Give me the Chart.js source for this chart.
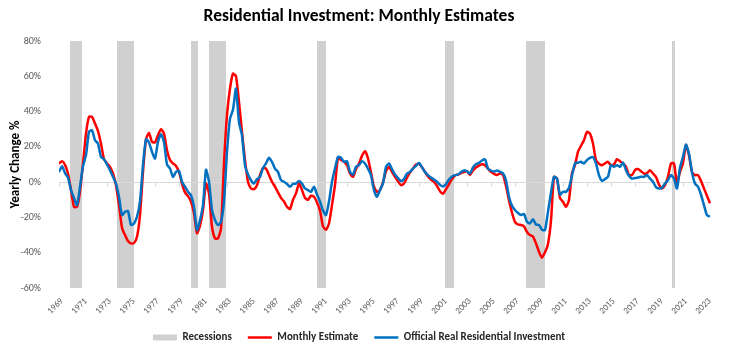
<!DOCTYPE html>
<html>
<head>
<meta charset="utf-8">
<script src="https://cdn.jsdelivr.net/npm/chart.js@4.4.1/dist/chart.umd.min.js"></script>
<style>
  body { margin: 0; background: #fff; }
  #wrap { width: 735px; height: 353px; }
</style>
</head>
<body>
<div id="wrap"><canvas id="riChart"></canvas></div>
<script>
// quarterly readings, yearly change %, starting 1969 Q1
const monthlyEstimate = [
  10.6, 11.9, 9.8, 4.9,
  -4.5, -14, -14, -5.5,
  10.6, 27.5, 37, 37,
  33.2, 28.9, 21.9, 13,
  10.6, 8.7, 4.9, -1.7,
  -13, -25.8, -30, -33.4,
  -34.7, -34.5, -31, -18.7,
  5.8, 24.3, 27.9, 22.8,
  22.5, 26.6, 30, 27.5,
  18.1, 12.5, 10.6, 9.2,
  5.8, -0.8, -5.8, -7.9,
  -11, -17.7, -29, -24.7,
  -15.8, -0.8, -6.4, -25.3,
  -31.9, -31.9, -26.2, 10.5,
  38, 53, 61.5, 60,
  45.5, 28.5, 12.5, 0.2,
  -3.6, -4, -1.7, 4,
  8, 7.7, 4, 0.2,
  -2.6, -5.8, -8.9, -11,
  -14, -15.3, -10, -6.4,
  -0.8, -4.5, -8.9, -10,
  -7.7, -8.3, -11.5, -16,
  -25, -27, -23.4, -13,
  -1.7, 13.8, 12.5, 11.5,
  9.6, 4.9, 3, 7.4,
  10.6, 14.9, 17.5, 13.4,
  5.5, -2.6, -5.5, -4.5,
  -0.2, 6.2, 8.7, 5.8,
  3, 0.5, -1.7, -0.8,
  2.5, 5.5, 7.7, 10,
  10.4, 8.5, 5.8, 3.2,
  1.5, 0.2, -2.1, -5.1,
  -6.6, -4, -1.1, 1.7,
  3.8, 4.3, 5.1, 5.7,
  6.2, 4, 6.6, 8.3,
  9.4, 10.2, 9.6, 7.7,
  5.8, 4.7, 4, 4.9,
  4.2, -2.1, -10.2, -17.2,
  -22.5, -24, -24.3, -25,
  -28.3, -30, -30.8, -34.7,
  -39.4, -42.8, -39.8, -35,
  -22, 3, 2, -9,
  -11.1, -14, -10.2, 4.9,
  9.6, 17.2, 20.6, 23.8,
  28.5, 27.5, 21.9, 12.5,
  10.4, 9.6, 10.6, 11.5,
  9.6, 10, 13, 11.9,
  10.6, 8.7, 4, 4,
  6.8, 7.4, 6.2, 4.9,
  5.1, 6.8, 4.9, 3,
  -1.3, -3.6, -1.7, 3,
  10.6, 10.6, -0.8, 5.8,
  10.6, 21, 15.3, 5.8,
  4, 4, 0.8, -3.6,
  -7.7, -12
];

const officialRRI = [
  5.8, 9, 5.1, 2.6,
  -4.5, -8.9, -13, -2.6,
  9, 15.3, 28.5, 29.4,
  23.8, 21.9, 14.3, 13,
  10, 6.8, 3, -0.8,
  -8.3, -18.7, -16.8, -16.4,
  -24.3, -23.4, -19.6, -11,
  9.6, 24.3, 22.5, 17.2,
  13.4, 22.8, 27.2, 22.8,
  10, 7.7, 3, 5.8,
  6.4, 0.2, -2.6, -5.5,
  -7.4, -14, -27.2, -21.5,
  -13, 7, 0.2, -15.8,
  -21.5, -24.3, -22.5, -11,
  17, 36, 41, 53,
  34, 26.6, 9.6, 4.3,
  1.1, -0.8, 1.7, 3,
  8, 10.6, 13.8, 11.5,
  7.7, 5.8, 1.1, 0.2,
  -1.1, -2.6, -1, -0.8,
  0.6, -0.8, -3.6, -4.5,
  -5.5, -2.6, -7, -11,
  -16, -18.7, -11, 0.2,
  7.7, 14.3, 13.8, 11.5,
  11.9, 5.8, 4.3, 8.7,
  9.6, 11.9, 10.6, 7.7,
  4, -4.5, -8.3, -4.5,
  -0.8, 8.7, 10.6, 7.4,
  4.3, 2.3, 0.6, 1.7,
  4.9, 5.8, 7.7, 9.2,
  10.8, 8.5, 5.8, 4,
  2.6, 1.5, 0.2, -1.5,
  -2.5, -1.1, 1.5, 3.2,
  4, 4.3, 5.7, 6.6,
  6.2, 4.9, 8.3, 10.2,
  10.9, 12.3, 13, 7.7,
  6.6, 6, 6.6, 5.8,
  5.1, 1.1, -8.3, -13.4,
  -15.8, -17.5, -18.7, -18,
  -22.5, -23.4, -21, -24,
  -24.3, -27, -27.2, -16.8,
  -6, 3, 2, -7,
  -5.5, -5.5, -3.2, 3.6,
  10.6, 11, 11.5, 10.6,
  12.5, 13.8, 14.2, 10.6,
  4, 0.8, 1.7, 3,
  9.6, 8.7, 9.6, 8.7,
  11.1, 6.8, 3.6, 2,
  2.3, 2.6, 3, 3,
  4, 2, 0.2, -2.8,
  -3.6, -3.2, -0.8, 1.1,
  4, 2, -3.6, 8.1,
  14.3, 21.3, 16.2, 5.8,
  -0.8, -2.6, -7, -13,
  -18.7, -19.6
];

// quarter positions as decimal years
const quarters = [];
for (let i = 0; i < monthlyEstimate.length; i++) quarters.push(1969 + i / 4);

// NBER recessions, decimal years
const recessionStart = [1969.917, 1973.833, 1980.0, 1981.5, 1990.5, 2001.167, 2007.917, 2020.083];
const recessionEnd   = [1970.917, 1975.25, 1980.583, 1982.917, 1991.25, 2001.917, 2009.5, 2020.333];

const tickYears = [1969, 1971, 1973, 1975, 1977, 1979, 1981, 1983, 1985, 1987, 1989, 1991, 1993, 1995,
  1997, 1999, 2001, 2003, 2005, 2007, 2009, 2011, 2013, 2015, 2017, 2019, 2021, 2023];

const grey = '#595959';
const fontFam = 'Carlito, Lato, "Liberation Sans", sans-serif';

// grey recession bands, zero line and its little tick marks
const backdrop = {
  id: 'backdrop',
  beforeDatasetsDraw(chart) {
    const {ctx, chartArea, scales: {x, y}} = chart;
    ctx.save();
    ctx.fillStyle = '#D0D0D0';
    recessionStart.forEach((s, i) => {
      const x1 = x.getPixelForValue(s);
      const x2 = x.getPixelForValue(recessionEnd[i]);
      ctx.fillRect(x1, chartArea.top, x2 - x1, chartArea.bottom - chartArea.top);
    });
    const y0 = Math.round(y.getPixelForValue(0)) + 0.5;
    ctx.strokeStyle = '#D9D9D9';
    ctx.lineWidth = 1;
    ctx.beginPath();
    ctx.moveTo(chartArea.left, y0);
    ctx.lineTo(chartArea.right, y0);
    tickYears.forEach(t => {
      const px = Math.round(x.getPixelForValue(t)) + 0.5;
      ctx.moveTo(px, y0);
      ctx.lineTo(px, y0 + 4);
    });
    ctx.stroke();
    ctx.restore();
  }
};

const ctx = document.getElementById('riChart');

new Chart(ctx, {
  type: 'line',
  data: {
    datasets: [
      {
        label: 'Recessions',
        data: [],
        pointStyle: 'rect',
        backgroundColor: '#D0D0D0',
        borderColor: '#D0D0D0',
        pointBorderWidth: 0
      },
      {
        label: 'Monthly Estimate',
        data: monthlyEstimate.map((v, i) => ({x: quarters[i], y: v})),
        borderColor: '#FF0000',
        backgroundColor: '#FF0000',
        borderWidth: 2.5,
        pointRadius: 0,
        pointStyle: 'line',
        pointBorderWidth: 2.5,
        tension: 0.2,
        order: 2
      },
      {
        label: 'Official Real Residential Investment',
        data: officialRRI.map((v, i) => ({x: quarters[i], y: v})),
        borderColor: '#0070C0',
        backgroundColor: '#0070C0',
        borderWidth: 2.5,
        pointRadius: 0,
        pointStyle: 'line',
        pointBorderWidth: 2.5,
        tension: 0.2,
        order: 1
      }
    ]
  },
  options: {
    responsive: true,
    maintainAspectRatio: false,
    animation: false,
    devicePixelRatio: 1,
    layout: { padding: { left: 6, right: 23, top: 0, bottom: 0 } },
    plugins: {
      title: {
        display: true,
        text: 'Residential Investment: Monthly Estimates',
        color: '#000',
        font: { family: fontFam, size: 17.5, weight: 'bold' },
        padding: { top: 6, bottom: 14 }
      },
      legend: {
        position: 'bottom',
        maxHeight: 37,
        labels: {
          usePointStyle: true,
          pointStyleWidth: 24,
          boxHeight: 6,
          padding: 16,
          color: '#262626',
          font: { family: fontFam, size: 11, weight: 'bold' },
          sort: (a, b) => a.datasetIndex - b.datasetIndex
        }
      },
      tooltip: { enabled: false }
    },
    scales: {
      x: {
        type: 'linear',
        min: 1969,
        max: 2023.42,
        grid: { display: false },
        border: { display: false },
        afterBuildTicks: axis => { axis.ticks = tickYears.map(v => ({value: v})); },
        afterFit: axis => { axis.height = 28; },
        ticks: {
          autoSkip: false,
          minRotation: 45,
          maxRotation: 45,
          labelOffset: 3,
          padding: 0,
          color: grey,
          font: { family: fontFam, size: 9 },
          callback: v => String(v)
        }
      },
      y: {
        min: -60,
        max: 80,
        grid: { display: false },
        border: { display: false },
        afterFit: axis => { axis.width = 53; },
        title: {
          display: true,
          text: 'Yearly Change %',
          color: '#000',
          font: { family: fontFam, size: 13, weight: 'bold' },
          padding: { top: 2, bottom: 0 }
        },
        ticks: {
          stepSize: 20,
          padding: 10,
          color: grey,
          font: { family: fontFam, size: 10 },
          callback: v => v + '%'
        }
      }
    }
  },
  plugins: [backdrop]
});
</script>
</body>
</html>
